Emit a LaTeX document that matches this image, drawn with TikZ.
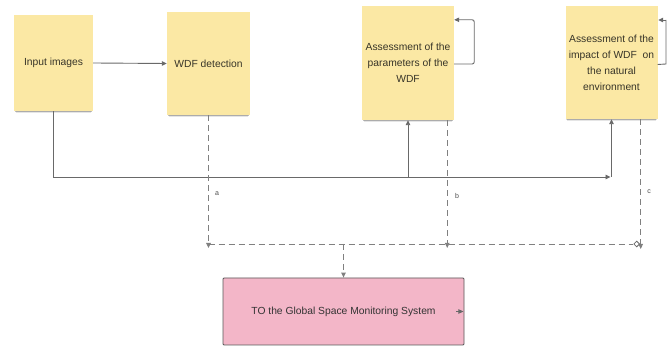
\documentclass[tikz,border=0pt]{standalone}
\usepackage{fontspec}
\setmainfont{Liberation Sans}
\usetikzlibrary{arrows.meta,shadows,shapes.geometric,calc}
\definecolor{note}{RGB}{251,232,164}
\definecolor{notetext}{RGB}{55,52,40}
\definecolor{target}{RGB}{243,182,200}
\definecolor{wire}{RGB}{105,105,105}
\tikzset{
  note/.style={fill=note, draw=none, align=center, text=notetext,
    font=\fontsize{10.3}{16}\selectfont, inner sep=0pt,
    general shadow={shadow scale=0.96, shadow yshift=-4pt, opacity=.10, fill=black},
    general shadow={shadow scale=0.97, shadow yshift=-3pt, opacity=.12, fill=black},
    general shadow={shadow scale=0.98, shadow yshift=-2pt, opacity=.14, fill=black}},
  sink/.style={fill=target, draw=black!65, line width=0.8pt, rounded corners=1pt,
    text=black!80, font=\fontsize{10.3}{13}\selectfont, inner sep=0pt},
  arr/.style={draw=wire, line width=0.9pt, -{Triangle[length=5pt,width=4.5pt]}},
  dashlink/.style={draw=wire!85, line width=0.9pt, dash pattern=on 6pt off 4pt},
  dasharr/.style={dashlink, -{Triangle[length=5pt,width=4.5pt]}},
  tag/.style={font=\fontsize{7}{8}\selectfont, text=black!70, inner sep=0pt}
}
\begin{document}
\begin{tikzpicture}[x=1pt,y=-1pt]
\useasboundingbox (0,0) rectangle (667,347);
\fill[white] (0,0) rectangle (667,347);

% process notes
\node[note, minimum width=79pt, minimum height=96pt] (inp) at (53.5,63) {Input images};
\node[note, minimum width=83pt, minimum height=103pt] (det) at (208.5,63.5) {WDF detection};
\node[note, minimum width=92pt, minimum height=114pt] (par) at (408,63)
  {Assessment of the\\parameters of the\\WDF};
\node[note, minimum width=92pt, minimum height=113pt] (imp) at (611.5,62.5)
  {Assessment of the\\impact of WDF\ \ on\\the natural\\environment};

% output system
\node[sink, minimum width=241pt, minimum height=67pt] (gsm) at (343.5,311.5)
  {TO the Global Space Monitoring System};

% solid flows
\draw[arr] (inp.east) -- (det.west);
\coordinate (busL) at (inp.south |- 0,177);
\coordinate (busR) at (imp.south |- 0,177);
\draw[arr] (inp.south) -- (busL) -- ([xshift=-1pt]busR);
\draw[arr] (busR) -- (imp.south);
\draw[arr] (par.south |- busR) -- (par.south);

% feedback loops
\draw[arr, rounded corners=2pt] ([yshift=-1pt]par.east) -- ++(20,0) |- ([yshift=-14pt]par.north east);
\coordinate (loopr) at (666,64);
\coordinate (loopt) at (666,20);
\draw[draw=wire, line width=0.9pt] ([yshift=-2pt]imp.east) -- (loopr) -- (loopt);
\draw[arr] (loopt) -- ([xshift=0.5pt]imp.east |- loopt);

% dashed reporting lines
\coordinate (da) at (det.south |- 0,244);
\coordinate (db) at ([xshift=-7pt]par.south east |- 0,244);
\coordinate (dc) at ([xshift=-17pt]imp.south east |- 0,244);
\draw[dasharr] (det.south) -- ([yshift=-4pt]da);
\draw[dasharr] ([xshift=-7pt]par.south east) -- ([yshift=-4pt]db);
\draw[dasharr] ([xshift=-17pt]imp.south east) -- ([yshift=-5pt]dc);
\node[diamond, draw=wire, line width=0.8pt, fill=white, inner sep=0pt,
  minimum width=6pt, minimum height=6pt] (dd) at ([xshift=-4pt]dc) {};
\draw[dashlink] (da) -- (dd.west);
\draw[dasharr] (gsm.north |- da) -- (gsm.north);

\node[tag] (ta) at (217,194) {a};
\node[tag] (tb) at (457,196) {b};
\node[tag] (tc) at (649,192) {c};

% outgoing marker at the right edge of the system box
\draw[arr] ([xshift=-8pt]gsm.east) -- ([xshift=-1pt]gsm.east);
\end{tikzpicture}
\end{document}
